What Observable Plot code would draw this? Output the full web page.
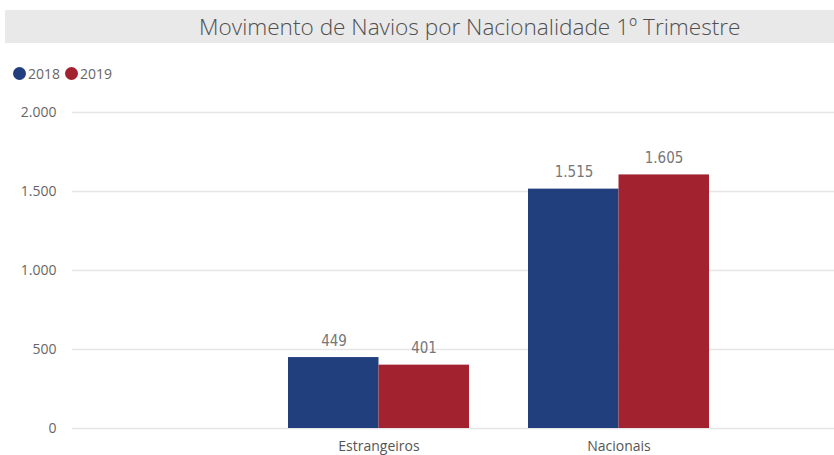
<!DOCTYPE html>
<html>
<head>
<meta charset="utf-8">
<script src="https://cdn.jsdelivr.net/npm/d3@7"></script>
<script src="https://cdn.jsdelivr.net/npm/@observablehq/plot@0.6"></script>
<style>
  body { margin: 0; background: #fff; font-family: "Open Sans", "Noto Sans", sans-serif; }
  #title { margin: 10px 0 0 5px; height: 33px; background: #e9e9e9; color: #505050;
           font-size: 22.6px; font-weight: 300; line-height: 33px; padding-left: 194px; white-space: nowrap; overflow: hidden; }
  #legend { height: 56px; display: flex; align-items: center; padding-left: 13px; padding-top: 4px; box-sizing: border-box; font-size: 14px; color: #666; }
  #legend span { display: inline-flex; align-items: center; margin-right: 5px; }
  #legend i { display: inline-block; width: 13px; height: 13px; border-radius: 50%; margin-right: 2px; }
</style>
</head>
<body>
<div id="title">Movimento de Navios por Nacionalidade 1º Trimestre</div>
<div id="legend"></div>
<div id="chart"></div>
<script>
const categories = ["Estrangeiros", "Nacionais"];
const years = ["2018", "2019"];
const values2018 = [449, 1515];
const values2019 = [401, 1605];
const yTicks = [0, 500, 1000, 1500, 2000];
const colors = ["#213f7d", "#a32230"];

const data = [];
categories.forEach((c, i) => {
  data.push({category: c, year: "2018", value: values2018[i]});
  data.push({category: c, year: "2019", value: values2019[i]});
});

const fmt = d => d3.format(",")(d).replace(/,/g, ".");

const legend = document.getElementById("legend");
years.forEach((y, i) => {
  const s = document.createElement("span");
  s.innerHTML = `<i style="background:${colors[i]}"></i>${y}`;
  legend.appendChild(s);
});

const half = 90.5;
const chart = Plot.plot({
  width: 834,
  height: 356,
  marginLeft: 72,
  marginRight: 0,
  marginTop: 13,
  marginBottom: 27,
  style: {fontFamily: "'Open Sans', sans-serif", fontSize: "14px", color: "#666"},
  x: {domain: categories, range: [258, 738], paddingInner: 0.246, paddingOuter: 0.123, label: null},
  y: {domain: [0, 2000], ticks: yTicks, label: null, tickFormat: fmt},
  color: {domain: years, range: colors},
  marks: [
    Plot.ruleY(yTicks, {stroke: "#e6e6e6", strokeWidth: 1.5}),
    Plot.axisY({ticks: yTicks, tickSize: 0, tickPadding: 16, tickFormat: fmt, fill: "#666", fontSize: 14}),
    Plot.axisX({tickSize: 0, tickPadding: 13, fill: "#555", fontSize: 14}),
    Plot.barY(data.filter(d => d.year === "2018"), {x: "category", y: "value", fill: "year", insetRight: half}),
    Plot.barY(data.filter(d => d.year === "2019"), {x: "category", y: "value", fill: "year", insetLeft: half}),
    Plot.text(data.filter(d => d.year === "2018"), {x: "category", y: "value", text: d => fmt(d.value), dx: -45, dy: -12, lineAnchor: "bottom", fill: "#777", fontSize: 15, fontFamily: "'DejaVu Sans Condensed', sans-serif"}),
    Plot.text(data.filter(d => d.year === "2019"), {x: "category", y: "value", text: d => fmt(d.value), dx: 45, dy: -12, lineAnchor: "bottom", fill: "#777", fontSize: 15, fontFamily: "'DejaVu Sans Condensed', sans-serif"})
  ]
});
document.getElementById("chart").appendChild(chart);
</script>
</body>
</html>
